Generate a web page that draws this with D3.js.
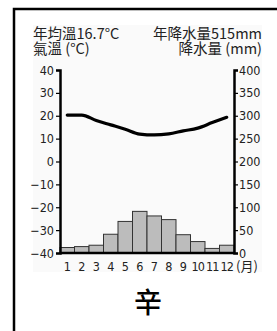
<!DOCTYPE html>
<html>
<head>
<meta charset="utf-8">
<script src="https://cdn.jsdelivr.net/npm/d3@7"></script>
<style>
  body { margin: 0; background: #fff; }
  svg { display: block; }
  .lbl { font-family: "DejaVu Sans Condensed", "Liberation Sans Narrow", "Noto Sans CJK TC", sans-serif; font-size: 12.5px; fill: #222; }
  .cjk { font-family: "Noto Sans CJK TC", sans-serif; font-size: 14.5px; fill: #222; }
</style>
</head>
<body>
<script>
// data
const months = ["1", "2", "3", "4", "5", "6", "7", "8", "9", "10", "11", "12"];
const temps = [20.3, 20.3, 17.9, 16.0, 14.1, 12.0, 11.6, 12.1, 13.4, 14.6, 17.0, 19.3];
const precip = [12, 14, 17, 41, 69, 91, 81, 73, 40, 25, 10, 17];
const tempTicks = [40, 30, 20, 10, 0, -10, -20, -30, -40];
const precipTicks = [400, 350, 300, 250, 200, 150, 100, 50, 0];

const W = 277, H = 331;
const svg = d3.select("body").append("svg").attr("width", W).attr("height", H);

// frame (only left & top visible)
svg.append("rect").attr("x", 33).attr("y", 25).attr("width", 229).attr("height", 247).attr("fill", "#fafafa");
svg.append("path").attr("d", "M14,331 V9 H277").attr("fill", "none").attr("stroke", "#000").attr("stroke-width", 2.5);

const x = d3.scaleBand().domain(months).range([60, 234]).padding(0);
const yT = d3.scaleLinear().domain([-40, 40]).range([253, 70]);
const yP = d3.scaleLinear().domain([0, 400]).range([253, 70]);

// bars
svg.selectAll(".bar").data(precip).enter().append("rect")
  .attr("x", (d, i) => x(months[i]))
  .attr("y", d => yP(d))
  .attr("width", x.bandwidth())
  .attr("height", d => yP(0) - yP(d))
  .attr("fill", "#bcbcbc").attr("stroke", "#333").attr("stroke-width", 1);

// temperature line
const line = d3.line()
  .x((d, i) => x(months[i]) + x.bandwidth() / 2)
  .y(d => yT(d))
  .curve(d3.curveMonotoneX);
svg.append("path").datum(temps).attr("d", line)
  .attr("fill", "none").attr("stroke", "#000").attr("stroke-width", 3.2).attr("stroke-linecap", "round");

// axes
const axL = d3.axisLeft(yT).tickValues(tempTicks).tickSize(4).tickPadding(2);
const axR = d3.axisRight(yP).tickValues(precipTicks).tickSize(4).tickPadding(1);
const gL = svg.append("g").attr("transform", "translate(60,0)").call(axL);
const gR = svg.append("g").attr("transform", "translate(234,0)").call(axR);
[gL, gR].forEach(g => {
  g.select(".domain").attr("stroke", "#000").attr("stroke-width", 2.5);
  g.selectAll(".tick line").attr("stroke", "#000").attr("stroke-width", 1.2);
  g.selectAll(".tick text").attr("class", "lbl").attr("fill", "#222");
});
// bottom baseline
svg.append("line").attr("x1", 60).attr("x2", 234).attr("y1", yP(0)).attr("y2", yP(0))
  .attr("stroke", "#000").attr("stroke-width", 2.5);

// month labels
svg.selectAll(".mon").data(months).enter().append("text")
  .attr("class", "lbl")
  .attr("x", d => x(d) + x.bandwidth() / 2)
  .attr("y", 271)
  .attr("text-anchor", "middle")
  .attr("letter-spacing", d => d.length > 1 ? "-1px" : null)
  .text(d => d);
svg.append("text").attr("class", "cjk").style("font-size", "13px").attr("x", 236).attr("y", 271).text("(月)");

// headers
svg.append("text").attr("class", "cjk").attr("x", 33).attr("y", 39).text("年均溫16.7°C");
svg.append("text").attr("class", "cjk").attr("x", 33).attr("y", 54).text("氣溫 (°C)");
svg.append("text").attr("class", "cjk").attr("x", 262).attr("y", 39).attr("text-anchor", "end").text("年降水量515mm");
svg.append("text").attr("class", "cjk").attr("x", 262).attr("y", 54).attr("text-anchor", "end").text("降水量 (mm)");

// label
svg.append("text").attr("x", 148).attr("y", 313).attr("text-anchor", "middle")
  .style("font-family", "'Noto Sans CJK TC', sans-serif").style("font-size", "28px").style("font-weight", "500")
  .text("辛");
</script>
</body>
</html>
